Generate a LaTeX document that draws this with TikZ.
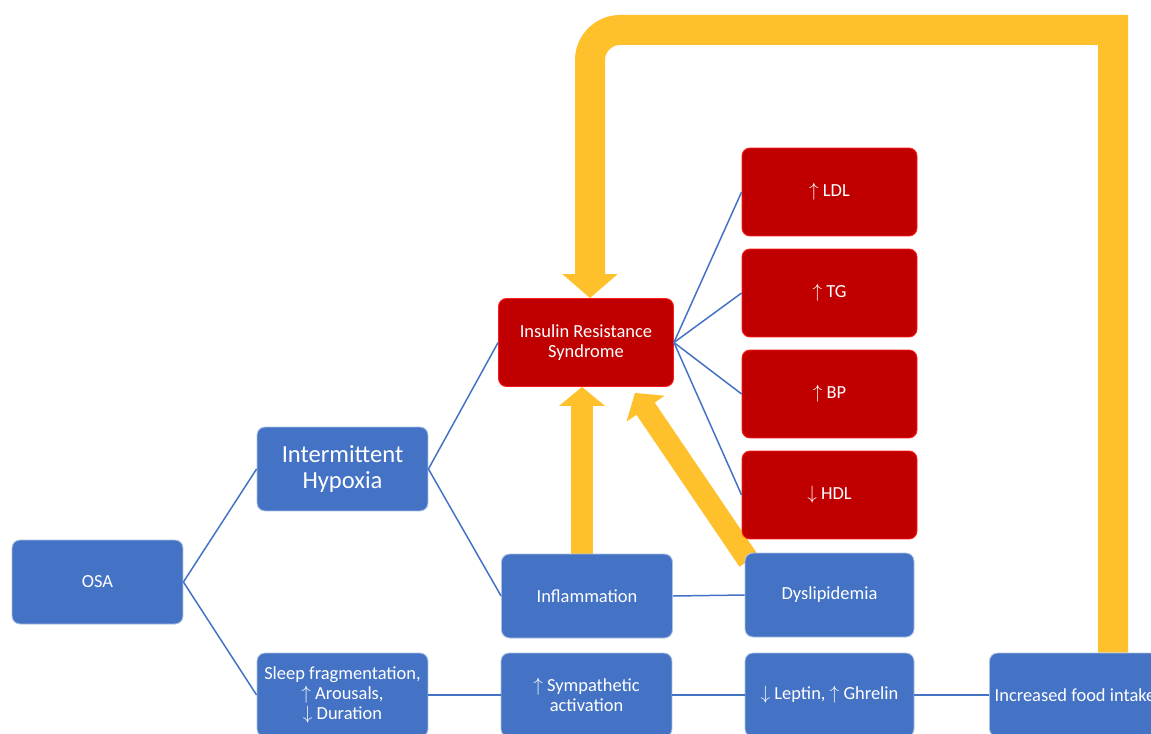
\documentclass[tikz,border=0pt]{standalone}
\usepackage{fontspec}
\setmainfont{Carlito}
\usetikzlibrary{arrows.meta,backgrounds}
\definecolor{boxblue}{HTML}{4472C4}
\definecolor{boxred}{HTML}{C00000}
\definecolor{edgered}{HTML}{FF1A1A}
\definecolor{loopyellow}{HTML}{FFC12B}
\tikzset{
  bluebox/.style={fill=boxblue,draw=boxblue!45!white,line width=0.5pt,rounded corners=0.16cm,
    text=white,align=center,minimum width=3.42cm,minimum height=1.68cm,inner sep=1pt,
    font=\fontsize{10.5}{11.4}\selectfont},
  redbox/.style={bluebox,fill=boxred,draw=edgered,minimum width=3.5cm,minimum height=1.76cm},
  link/.style={draw=boxblue,line width=0.85pt},
  fat/.style={draw=loopyellow,line width=0.44cm,-{Triangle[length=0.38cm,width=0.9cm]}},
  bigloop/.style={draw=loopyellow,line width=0.6cm,line join=miter,-{Triangle[length=0.48cm,width=1.08cm]}},
}
\begin{document}
\begin{tikzpicture}[x=0.02cm,y=-0.02cm]
\useasboundingbox (0,0) rectangle (1151,733);
\node[bluebox] (osa) at (97.5,582) {OSA};
\node[bluebox,font=\fontsize{14}{15}\selectfont] (hyp) at (342.5,469) {Intermittent\\Hypoxia};
\node[bluebox] (sleep) at (342.5,695) {Sleep fragmentation,\\$\uparrow$ Arousals,\\$\downarrow$ Duration};
\node[redbox] (irs) at (586,342.5) {Insulin Resistance\\Syndrome};
\node[bluebox] (infl) at (587,596) {Inflammation};
\node[bluebox] (symp) at (586.5,695) {$\uparrow$ Sympathetic\\activation};
\node[redbox] (ldl) at (829.5,192) {$\uparrow$ LDL};
\node[redbox] (tg) at (829.5,293) {$\uparrow$ TG};
\node[redbox] (bp) at (829.5,394) {$\uparrow$ BP};
\node[redbox] (hdl) at (829.5,495) {$\downarrow$ HDL};
\node[bluebox,minimum width=3.38cm] (dys) at (829.5,595) {Dyslipidemia};
\node[bluebox,minimum width=3.38cm] (lep) at (829.5,695) {$\downarrow$ Leptin, $\uparrow$ Ghrelin};
\node[bluebox] (food) at (1075,695) {Increased food intake};
\draw[link] (osa.east) -- (hyp.west);
\draw[link] (osa.east) -- (sleep.west);
\draw[link] (hyp.east) -- (irs.west);
\draw[link] (hyp.east) -- (infl.west);
\draw[link] (irs.east) -- (ldl.west);
\draw[link] (irs.east) -- (tg.west);
\draw[link] (irs.east) -- (bp.west);
\draw[link] (irs.east) -- (hdl.west);
\draw[link] (infl.east) -- (dys.west);
\draw[link] (sleep.east) -- (symp.west);
\draw[link] (symp.east) -- (lep.west);
\draw[link] (lep.east) -- (food.west);
\begin{scope}[on background layer]
\coordinate (tr) at (1113,30);
\coordinate (tl) at (590,30);
\draw[bigloop] (food.north -| tr) -- (tr) -- ([xshift=0.6cm]tl) arc (90:180:0.6cm) -- (tl |- irs.north);
\draw[fat] ([xshift=-0.1cm]infl.north) -- ([xshift=-0.1cm]infl.north |- irs.south);
\draw[fat] ([shift={(4,8)}]dys.north west) -- ([shift={(-39,6)}]irs.south east);
\end{scope}
\end{tikzpicture}
\end{document}
